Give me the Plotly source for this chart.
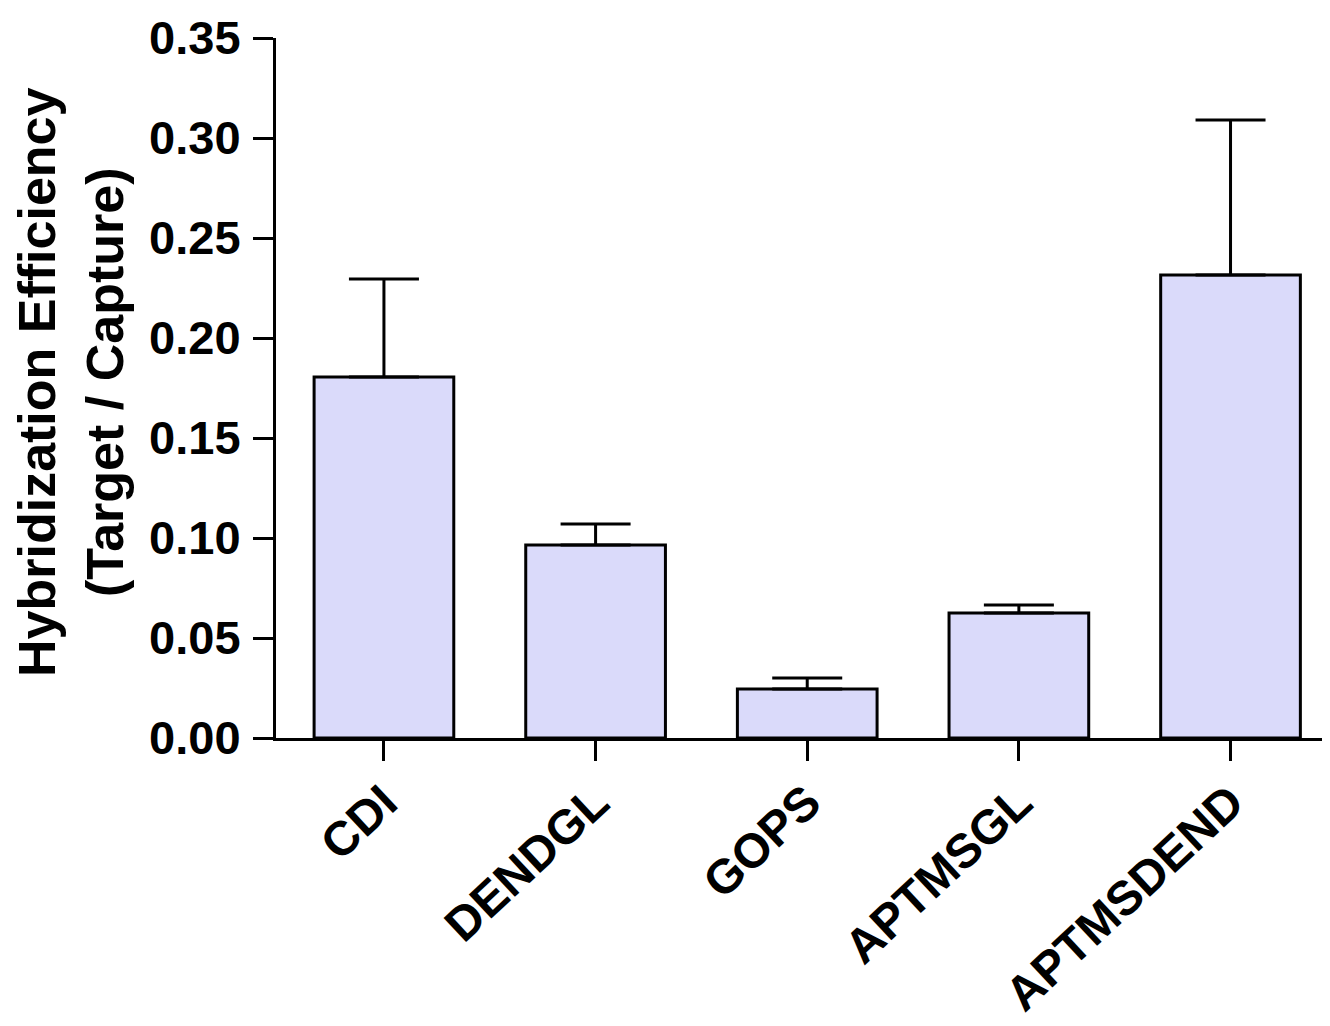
import plotly.graph_objects as go

categories = ["CDI", "DENDGL", "GOPS", "APTMSGL", "APTMSDEND"]
means = [0.1805, 0.0965, 0.0245, 0.0625, 0.2315]
errors_up = [0.049, 0.0105, 0.0055, 0.0040, 0.0775]
y_ticks = [0.00, 0.05, 0.10, 0.15, 0.20, 0.25, 0.30, 0.35]
y_title = "Hybridization Efficiency<br>(Target / Capture)"

FONT = "Liberation Sans, Arial, sans-serif"

fig = go.Figure()
fig.add_trace(go.Bar(
    x=categories,
    y=means,
    width=0.66,
    marker=dict(color="#dadafa", line=dict(color="black", width=3)),
    error_y=dict(type="data", symmetric=False, array=errors_up,
                 arrayminus=[0] * len(means), color="black",
                 thickness=3, width=35),
))

# page body has an 8px default margin, so the figure is sized to compensate
fig.update_layout(
    width=1322, height=1018,
    margin=dict(l=268, r=0, t=30, b=288, autoexpand=False),
    plot_bgcolor="white", paper_bgcolor="white",
    showlegend=False,
    font=dict(family=FONT, color="black"),
    xaxis=dict(
        range=[-0.51, 4.47],
        automargin=False,
        showline=True, linecolor="black", linewidth=3,
        ticks="outside", ticklen=20, tickwidth=3, tickcolor="black",
        tickangle=-43,
        ticklabelstandoff=-6,
        tickfont=dict(family=FONT, size=48, color="black", weight="bold"),
        showgrid=False, zeroline=False,
    ),
    yaxis=dict(
        range=[0, 0.35],
        automargin=False,
        tickvals=y_ticks,
        ticktext=[f"{v:.2f}" for v in y_ticks],
        showline=True, linecolor="black", linewidth=3,
        ticks="outside", ticklen=20, tickwidth=3, tickcolor="black",
        ticklabelstandoff=3,
        tickfont=dict(family=FONT, size=47, color="black", weight="bold"),
        showgrid=False, zeroline=False,
    ),
    annotations=[dict(
        text=y_title, textangle=-90,
        xref="paper", yref="paper",
        x=(71 - 276) / 1054, y=(738 - 382) / 700,
        xanchor="center", yanchor="middle",
        showarrow=False,
        font=dict(family=FONT, size=52, color="black", weight="bold"),
    )],
)

fig.write_html("out.html")
